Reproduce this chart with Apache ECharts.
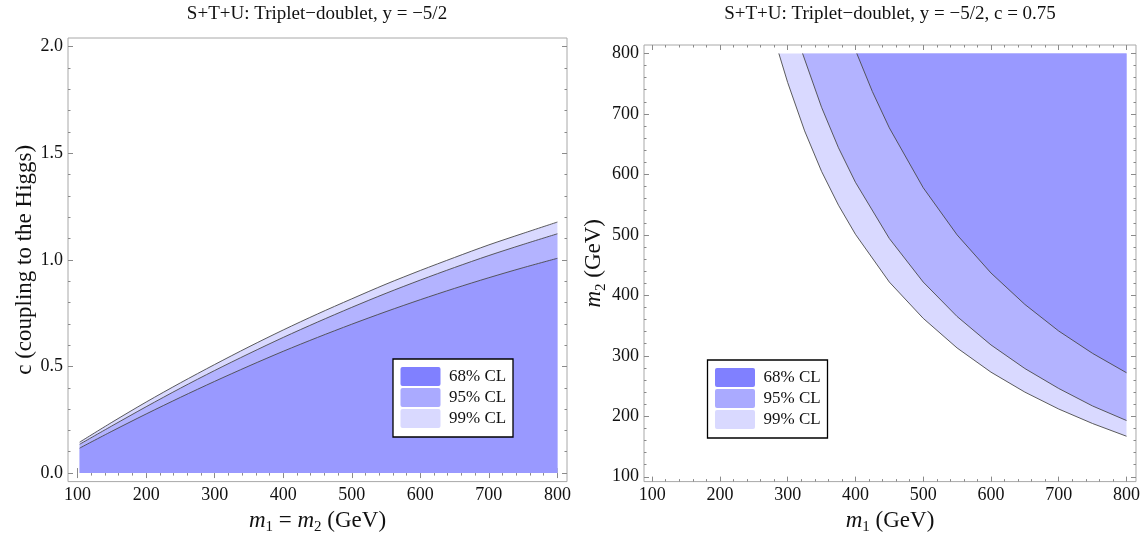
<!DOCTYPE html>
<html><head><meta charset="utf-8">
<script src="https://cdn.jsdelivr.net/npm/echarts@6/dist/echarts.min.js"></script>
<style>html,body{margin:0;padding:0;background:#fff}#c{width:1143px;height:540px}</style>
</head><body><div id="c"></div>
<script>
// ---------- data ----------
const titles = ['S+T+U: Triplet\u2212doublet, y = \u22125/2', 'S+T+U: Triplet\u2212doublet, y = \u22125/2, c = 0.75'];
const legendLabels = ['68% CL', '95% CL', '99% CL'];
const massTicks = [100, 200, 300, 400, 500, 600, 700, 800];
const cTicks = [0, 0.5, 1.0, 1.5, 2.0];
const m2Ticks = [100, 200, 300, 400, 500, 600, 700, 800];

// left panel: c boundary vs m1 = m2
const leftMass = [103, 150, 200, 250, 300, 350, 400, 450, 500, 550, 600, 650, 700, 750, 800];
const leftCL68 = [0.117, 0.196, 0.277, 0.355, 0.430, 0.502, 0.571, 0.636, 0.698, 0.757, 0.813, 0.866, 0.916, 0.963, 1.007];
const leftCL95 = [0.135, 0.221, 0.311, 0.398, 0.481, 0.560, 0.636, 0.708, 0.777, 0.843, 0.905, 0.964, 1.020, 1.072, 1.122];
const leftCL99 = [0.145, 0.238, 0.333, 0.423, 0.509, 0.592, 0.671, 0.746, 0.817, 0.886, 0.950, 1.011, 1.070, 1.124, 1.177];

// right panel: boundary m2 vs m1 (allowed region to the upper right)
const rightM1_68 = [402, 425, 450, 500, 550, 600, 650, 700, 750, 800];
const rightM2_68 = [800, 737, 677, 578, 500, 437, 385, 341, 304, 272];
const rightM1_95 = [322, 350, 375, 400, 450, 500, 550, 600, 650, 700, 750, 800];
const rightM2_95 = [800, 711, 644, 587, 494, 422, 365, 318, 279, 246, 217, 193];
const rightM1_99 = [287, 300, 325, 350, 375, 400, 450, 500, 550, 600, 650, 700, 750, 800];
const rightM2_99 = [800, 752, 672, 605, 549, 501, 422, 362, 313, 273, 240, 212, 188, 167];

// ---------- styling ----------
const FONT = 'Liberation Serif';
const TICK = '#8a8a8a';
const BAND = ['#9999ff', '#b3b3ff', '#d9d9ff'];
const SWATCH = ['#8080ff', '#aaaaff', '#d9d9ff'];
const EDGE = '#4a4a4a';

function minorsOf(majors, n) {
  const out = [];
  for (let i = 0; i < majors.length - 1; i++) {
    const step = (majors[i + 1] - majors[i]) / n;
    for (let k = 1; k < n; k++) out.push(+(majors[i] + k * step).toFixed(6));
  }
  return out;
}

function axisSet(kind, gi, min, max, majors, minors, fmt, nameCfg) {
  const mainPos = kind === 'x' ? 'bottom' : 'left';
  const oppPos = kind === 'x' ? 'top' : 'right';
  const base = (pos, vals, len, labels) => ({
    type: 'value', gridIndex: gi, min: min, max: max, position: pos,
    axisLine: { show: false }, splitLine: { show: false },
    axisTick: { show: true, inside: true, length: len, customValues: vals, lineStyle: { color: TICK, width: 1 } },
    axisLabel: labels ? { show: true, customValues: majors, formatter: fmt, fontFamily: FONT, fontSize: 18, color: '#111', margin: 5 } : { show: false },
    silent: true
  });
  const a = base(mainPos, majors, 5, true);
  Object.assign(a, nameCfg || {});
  return [a, base(mainPos, minors, 2.5, false), base(oppPos, majors, 5, false), base(oppPos, minors, 2.5, false)];
}

const richName = {
  i: { fontFamily: FONT, fontStyle: 'italic', fontSize: 23, color: '#111', lineHeight: 28, verticalAlign: 'middle' },
  t: { fontFamily: FONT, fontSize: 23, color: '#111', lineHeight: 28, verticalAlign: 'middle' },
  s: { fontFamily: FONT, fontSize: 15, color: '#111', lineHeight: 28, verticalAlign: 'bottom' }
};

const xAxes = [].concat(
  axisSet('x', 0, 86, 814, massTicks, minorsOf(massTicks, 5), v => String(v),
    { name: '{i|m}{s|1}{t| = }{i|m}{s|2}{t| (GeV)}', nameLocation: 'middle', nameGap: 22, nameTextStyle: { rich: richName } }),
  axisSet('x', 1, 88, 814, massTicks, minorsOf(massTicks, 5), v => String(v),
    { name: '{i|m}{s|1}{t| (GeV)}', nameLocation: 'middle', nameGap: 22, nameTextStyle: { rich: richName } })
);
const yAxes = [].concat(
  axisSet('y', 0, -0.04, 2.04, cTicks, minorsOf(cTicks, 5), v => v.toFixed(1),
    { name: 'c (coupling to the Higgs)', nameLocation: 'middle', nameGap: 32, nameTextStyle: { fontFamily: FONT, fontSize: 23, color: '#111' } }),
  axisSet('y', 1, 92, 814, m2Ticks, minorsOf(m2Ticks, 5), v => String(v),
    { name: '{i|m}{s|2}{t| (GeV)}', nameLocation: 'middle', nameGap: 32, nameTextStyle: { rich: richName } })
);

function leftBand(vals, color) {
  return {
    type: 'line', xAxisIndex: 0, yAxisIndex: 0, symbol: 'none', smooth: 0.3, silent: true,
    data: leftMass.map((m, i) => [m, vals[i]]),
    lineStyle: { color: EDGE, width: 0.9 },
    areaStyle: { color: color, opacity: 1 }
  };
}

function rightBand(m1, m2, color) {
  const pts = m1.map((v, i) => [v, m2[i]]);
  return {
    type: 'custom', coordinateSystem: 'cartesian2d', xAxisIndex: 4, yAxisIndex: 4, silent: true, clip: true,
    data: pts, encode: { x: 0, y: 1 },
    renderItem: function (params, api) {
      if (params.dataIndex !== 0) return null;
      const curve = pts.map(p => api.coord(p));
      const corner = api.coord([m1[m1.length - 1], m2[0]]);
      return {
        type: 'group', children: [
          { type: 'polygon', shape: { points: curve.concat([corner]) }, style: { fill: color } },
          { type: 'polyline', shape: { points: curve }, style: { stroke: EDGE, lineWidth: 0.9, fill: null } }
        ]
      };
    }
  };
}

function legendGraphic(x, y) {
  const children = [{ type: 'rect', z: 100, shape: { x: 0, y: 0, width: 120, height: 78 }, style: { fill: '#fff', stroke: '#000', lineWidth: 1.3 } }];
  legendLabels.forEach((lab, i) => {
    children.push({ type: 'rect', z: 101, shape: { x: 7.5, y: 8 + i * 21, width: 40, height: 19, r: 2 }, style: { fill: SWATCH[i] } });
    children.push({ type: 'text', z: 101, style: { x: 56, y: 18 + i * 21, text: lab, fontFamily: FONT, fontSize: 17, fill: '#111', verticalAlign: 'middle', align: 'left' } });
  });
  return { type: 'group', x: x, y: y, z: 100, children: children, silent: true };
}

const chart = echarts.init(document.getElementById('c'), null, { renderer: 'canvas' });
chart.setOption({
  animation: false,
  backgroundColor: '#fff',
  grid: [
    { left: 68, top: 38, width: 499, height: 448, show: true, borderColor: '#a8a8a8', borderWidth: 1, backgroundColor: 'transparent' },
    { left: 644, top: 45, width: 493, height: 442, show: true, borderColor: '#a8a8a8', borderWidth: 1, backgroundColor: 'transparent' }
  ],
  xAxis: xAxes,
  yAxis: yAxes,
  series: [
    leftBand(leftCL99, BAND[2]),
    leftBand(leftCL95, BAND[1]),
    leftBand(leftCL68, BAND[0]),
    rightBand(rightM1_99, rightM2_99, BAND[2]),
    rightBand(rightM1_95, rightM2_95, BAND[1]),
    rightBand(rightM1_68, rightM2_68, BAND[0])
  ],
  graphic: [
    { type: 'text', x: 317, y: 14, z: 100, silent: true, style: { text: titles[0], fontFamily: FONT, fontSize: 19, fill: '#111', align: 'center', verticalAlign: 'middle' } },
    { type: 'text', x: 890, y: 14, z: 100, silent: true, style: { text: titles[1], fontFamily: FONT, fontSize: 19, fill: '#111', align: 'center', verticalAlign: 'middle' } },
    legendGraphic(393, 359),
    legendGraphic(707.5, 360)
  ]
});
</script></body></html>
